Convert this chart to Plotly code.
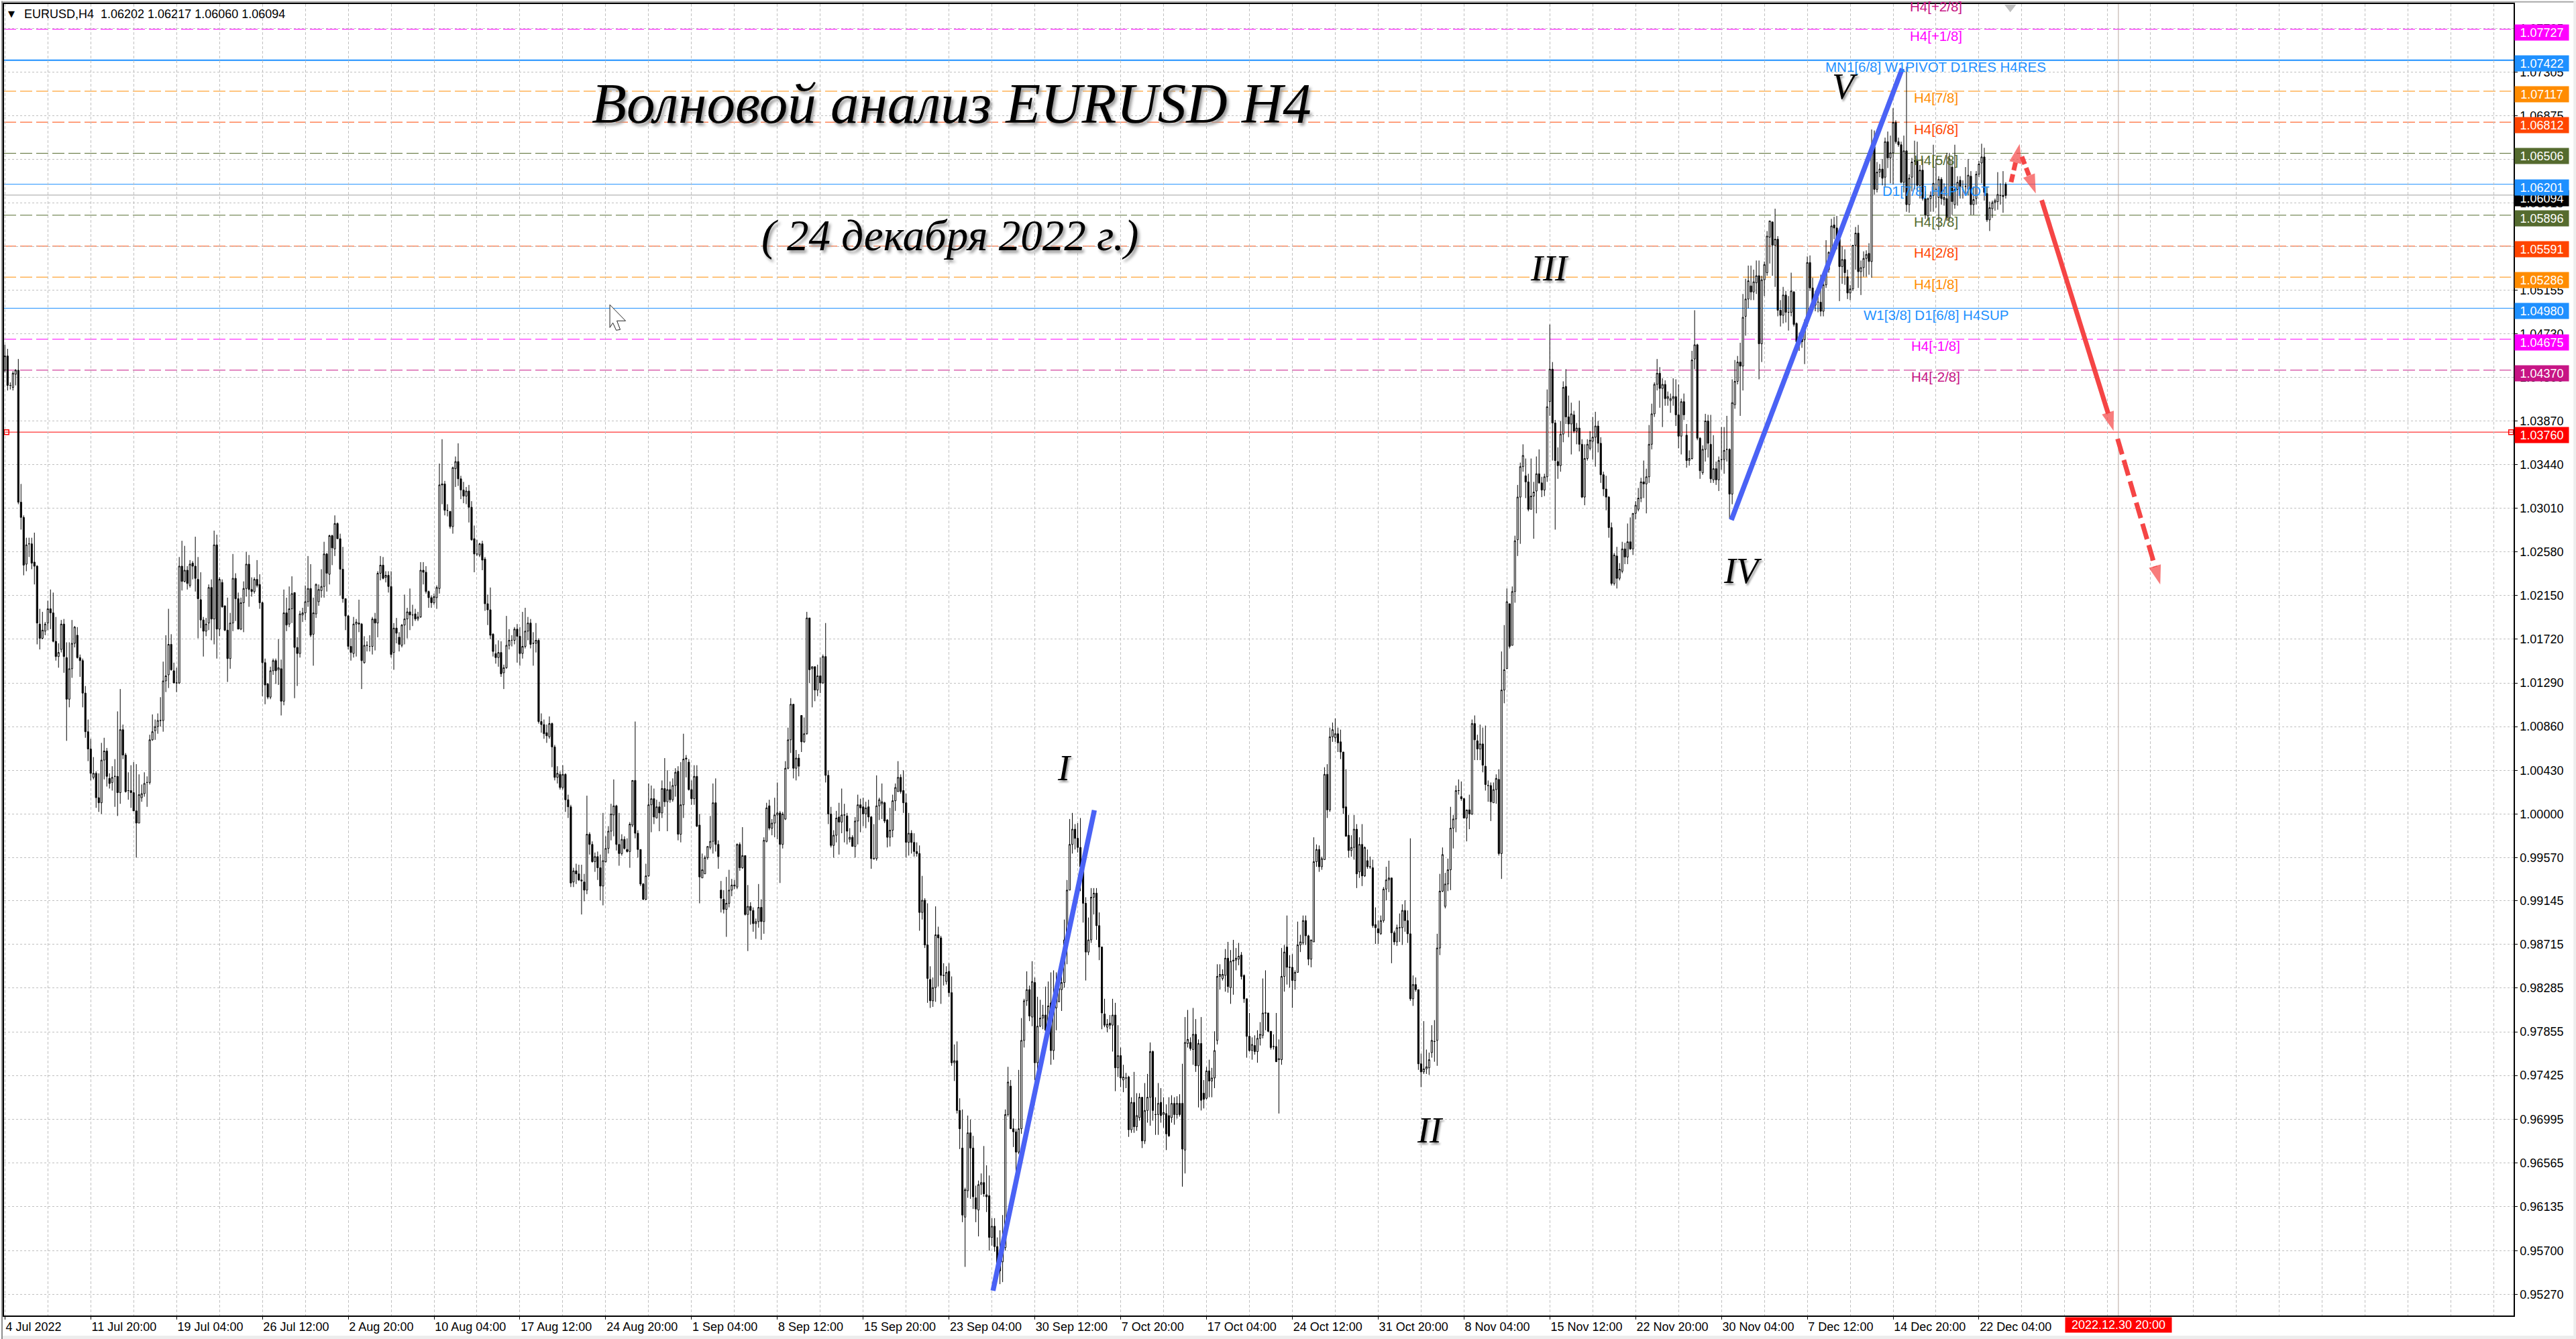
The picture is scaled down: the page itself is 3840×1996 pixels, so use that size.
import plotly.graph_objects as go

# Bars as (open, high, low, close), price x 10000
bars_a = [(10437,10462,10435,10451),(10451,10458,10417,10422),(10422,10425,10418,10422),(10420,10436,10417,10434),(10433,10438,10422,10437),(10437,10448,10305,10307),(10307,10325,10280,10292),(10292,10294,10235,10245),
(10246,10272,10239,10265),(10266,10272,10253,10266),(10266,10272,10241,10247),(10248,10277,10226,10244),(10244,10245,10167,10188),(10187,10202,10162,10173),(10173,10199,10172,10181),(10180,10189,10176,10187),
(10188,10210,10181,10202),(10202,10221,10182,10198),(10198,10218,10169,10170),(10170,10194,10151,10155),(10155,10168,10144,10159),(10162,10191,10159,10187),(10187,10192,10139,10155),(10154,10169,10072,10113),
(10113,10169,10105,10143),(10143,10191,10134,10168),(10168,10185,10164,10184),(10176,10184,10153,10154),(10154,10157,10135,10151),(10151,10153,10105,10119),(10119,10126,10075,10081),(10081,10093,10052,10064),
(10064,10074,10033,10040),(10036,10056,10034,10040),(10040,10042,10006,10016),(10016,10040,10002,10011),(10011,10070,10000,10053),(10053,10075,10034,10062),(10062,10065,10027,10037),(10035,10040,10025,10030),
(10031,10047,10023,10036),(10037,10054,10007,10037),(10037,10101,9998,10021),(10021,10123,10010,10083),(10083,10088,10054,10058),(10058,10060,10021,10022),(10023,10041,10014,10023),(10023,10048,10006,10021),
(10021,10051,10003,10003),(10003,10049,9957,9991),(9991,10039,9991,10019),(10016,10029,10012,10020),(10020,10041,10017,10030),(10031,10037,10007,10031),(10031,10078,10029,10073),(10073,10098,10072,10081),
(10082,10093,10073,10086),(10086,10099,10079,10092),(10092,10115,10086,10092),(10092,10150,10081,10131),(10131,10176,10120,10136),(10137,10202,10124,10167),(10167,10177,10141,10142),(10141,10149,10129,10129),
(10129,10144,10120,10129),(10129,10253,10128,10244),(10244,10269,10220,10229),(10229,10264,10228,10240),(10240,10244,10221,10227),(10225,10250,10223,10246),(10247,10249,10231,10244),(10244,10273,10219,10232),
(10231,10253,10173,10212),(10211,10238,10183,10191),(10191,10194,10155,10180),(10180,10193,10175,10187),(10188,10226,10181,10223),(10223,10231,10171,10192),(10192,10279,10167,10265),(10265,10275,10153,10182),
(10182,10233,10175,10231),(10228,10231,10203,10204),(10205,10205,10180,10181),(10181,10213,10130,10153),(10153,10198,10143,10188),(10188,10256,10180,10232),(10232,10237,10190,10212),(10212,10218,10182,10182),
(10182,10213,10181,10208),(10208,10229,10179,10222),(10222,10258,10214,10246),(10246,10255,10204,10221),(10221,10233,10214,10219),(10219,10233,10217,10231),(10231,10250,10223,10225),(10226,10236,10202,10208),
(10208,10209,10116,10149),(10149,10153,10108,10127),(10128,10129,10113,10115),(10115,10145,10113,10141),(10141,10153,10137,10151),(10151,10153,10128,10141),(10142,10172,10127,10144),(10143,10152,10097,10111),
(10111,10221,10107,10198),(10198,10213,10180,10186),(10187,10224,10184,10202),(10202,10234,10188,10217),(10218,10218,10114,10164),(10164,10174,10126,10158),(10158,10200,10154,10197),(10196,10203,10189,10198),
(10198,10225,10191,10209),(10209,10254,10204,10222),(10222,10246,10174,10176),(10177,10213,10146,10198),(10197,10227,10193,10226),(10209,10226,10205,10221),(10220,10241,10213,10224),(10224,10268,10213,10256),
(10256,10257,10219,10237),(10236,10275,10226,10274),(10274,10275,10245,10262),(10261,10294,10254,10286),(10286,10287,10271,10271),(10271,10276,10215,10241),(10241,10263,10208,10212),(10212,10212,10181,10195)]
bars_b = [(10195,10196,10162,10165),(10165,10173,10151,10159),(10158,10194,10154,10187),(10187,10192,10155,10189),(10188,10211,10179,10187),(10187,10188,10123,10151),(10149,10175,10148,10166),(10166,10170,10160,10166),
(10165,10176,10160,10165),(10165,10194,10157,10192),(10192,10198,10161,10188),(10188,10239,10174,10237),(10237,10254,10230,10245),(10245,10253,10231,10232),(10233,10239,10228,10235),(10235,10239,10218,10224),
(10224,10239,10154,10157),(10159,10188,10142,10183),(10183,10193,10168,10178),(10174,10179,10160,10167),(10166,10187,10164,10186),(10186,10216,10167,10192),(10192,10203,10173,10199),(10199,10222,10181,10196),
(10196,10206,10185,10196),(10197,10202,10190,10192),(10192,10199,10190,10194),(10194,10248,10193,10240),(10240,10248,10226,10238),(10238,10244,10217,10219),(10219,10220,10203,10213),(10213,10215,10203,10208),
(10208,10217,10206,10214),(10213,10225,10202,10223),(10222,10345,10217,10324),(10325,10369,10305,10324),(10325,10328,10294,10299),(10299,10305,10293,10299),(10298,10298,10281,10283),(10283,10342,10276,10341),
(10340,10352,10322,10347),(10347,10365,10323,10330),(10330,10333,10310,10319),(10319,10327,10306,10313),(10313,10322,10305,10318),(10318,10324,10287,10302),(10302,10308,10269,10270),(10271,10284,10238,10256),
(10256,10270,10254,10256),(10255,10267,10253,10266),(10266,10269,10240,10250),(10251,10253,10200,10207),(10207,10216,10186,10201),(10201,10223,10172,10176),(10177,10178,10155,10160),(10158,10167,10148,10154),
(10154,10171,10145,10159),(10159,10170,10135,10138),(10139,10147,10123,10144),(10144,10195,10143,10166),(10166,10182,10162,10171),(10171,10176,10165,10171),(10171,10184,10167,10182),(10182,10187,10149,10175),
(10175,10184,10146,10158),(10158,10199,10153,10165),(10165,10203,10163,10180),(10180,10194,10171,10188),(10188,10192,10163,10167),(10168,10179,10146,10168),(10168,10188,10159,10171),(10171,10173,10089,10091),
(10091,10099,10080,10088),(10088,10093,10074,10079),(10080,10088,10070,10077),(10076,10096,10074,10089),(10089,10090,10046,10066),(10066,10068,10033,10036),(10036,10047,10030,10040),(10039,10042,10024,10026),
(10026,10048,10024,10039),(10039,10040,10002,10014),(10014,10019,9996,10007),(10007,10009,9928,9932),(9933,9947,9928,9944),(9944,9951,9931,9941),(9941,9950,9934,9935),(9935,9950,9901,9934),
(9933,9941,9914,9925),(9925,10018,9921,9980),(9980,9982,9960,9970),(9970,9973,9952,9953),(9953,9962,9943,9958),(9958,9963,9935,9947),(9947,9960,9915,9929),(9929,10001,9910,9954),
(9953,9978,9952,9966),(9966,9988,9961,9983),(9983,10010,9974,10000),(9999,10034,9978,10008),(10008,10009,9964,9970),(9970,10001,9949,9961),(9961,9980,9959,9975),(9975,9978,9965,9966),
(9965,9976,9962,9963),(9963,9992,9947,9990),(9989,10033,9987,10033),(10033,10091,9976,9981),(9981,9984,9957,9965),(9965,9965,9929,9931),(9931,9932,9915,9916),(9916,9951,9915,9939),
(9939,10030,9938,10009),(10009,10028,9982,10015),(10015,10025,9990,9997),(9996,10014,9996,10007),(10007,10012,9983,10001),(10001,10033,9996,10025),(10025,10055,10007,10012),(10012,10043,9983,10024),
(10024,10032,10011,10014),(10014,10035,10012,10028),(10028,10045,10017,10041),(10042,10047,9974,9980),(9980,10051,9972,10009),(10009,10079,9996,10054),(10054,10058,10036,10055),(10051,10054,10023,10024)]
bars_c = [(10024,10033,10009,10015),(10015,10048,10009,10037),(10037,10048,9987,9988),(9989,10000,9912,9938),(9937,9961,9937,9945),(9941,9959,9941,9957),(9957,9968,9955,9968),(9967,9998,9965,9973),
(9973,10030,9961,10011),(10011,10035,9963,9970),(9970,9974,9946,9958),(9925,9934,9903,9917),(9916,9925,9902,9906),(9906,9938,9879,9912),(9912,9945,9908,9925),(9925,9936,9919,9930),
(9929,9935,9926,9930),(9928,9971,9926,9970),(9970,9972,9944,9947),(9947,9987,9946,9959),(9959,9959,9900,9901),(9901,9930,9865,9909),(9909,9913,9891,9905),(9905,9908,9884,9892),
(9892,9897,9877,9894),(9894,9931,9888,9908),(9908,9916,9876,9894),(9894,9977,9882,9974),(9973,10011,9972,10006),(10008,10014,9984,9986),(9986,9995,9979,9991),(9991,10016,9977,9999),
(9999,10031,9975,10001),(10001,10003,9932,9970),(9970,10002,9966,10000),(9995,10052,9994,10045),(10045,10085,10044,10073),(10073,10114,10060,10108),(10108,10108,10035,10045),(10045,10063,10033,10055),
(10055,10059,10037,10047),(10097,10097,10061,10071),(10071,10095,10070,10079),(10079,10199,10078,10193),(10193,10193,10129,10142),(10143,10145,10105,10145),(10145,10145,10111,10122),(10122,10147,10116,10136),
(10136,10154,10119,10129),(10129,10157,10128,10155),(10155,10188,10031,10038),(10038,10043,9990,10000),(10000,10007,9967,9969),(9969,9984,9957,9979),(9979,10003,9972,9996),(9997,10011,9960,9992),
(9992,10025,9981,9999),(9999,10010,9972,9999),(9998,10001,9970,9983),(9975,9986,9972,9977),(9977,9979,9968,9968),(9968,9997,9957,9993),(9993,10019,9970,10009),(10009,10015,9982,10006),
(10007,10016,9988,10000),(10000,10012,9986,10006),(10007,10014,9992,9997),(9997,9998,9946,9956),(9956,9990,9955,9956),(9956,10038,9954,10008),(10008,10016,9994,10014),(10010,10030,9995,10012),
(10011,10012,9991,9993),(9994,9995,9967,9977),(9977,10006,9968,9984),(9984,10019,9977,10013),(10013,10030,10003,10026),(10022,10052,10022,10036),(10036,10039,10020,10022),(10023,10043,10001,10011),
(10011,10020,9957,9972),(9972,10001,9959,9981),(9981,9984,9961,9972),(9972,9981,9958,9963),(9963,9972,9958,9961),(9961,9969,9885,9903),(9903,9939,9896,9915),(9915,9917,9868,9871),
(9871,9912,9814,9838),(9837,9850,9809,9816),(9816,9839,9810,9829),(9829,9909,9815,9881),(9881,9889,9830,9878),(9878,9880,9813,9841),(9841,9853,9831,9841),(9835,9850,9832,9844),
(9845,9853,9820,9824),(9824,9840,9752,9755),(9755,9773,9737,9757),(9757,9776,9705,9708),(9708,9720,9670,9690),(9671,9709,9598,9605),(9603,9632,9554,9630),(9629,9703,9622,9686),
(9686,9699,9621,9671),(9671,9683,9611,9623),(9622,9634,9598,9611),(9610,9639,9584,9635),(9635,9646,9625,9637),(9637,9673,9623,9626),(9625,9654,9608,9623),(9624,9644,9570,9583),
(9583,9602,9575,9594),(9594,9602,9569,9574),(9574,9583,9546,9553),(9557,9590,9537,9550),(9559,9605,9539,9574),(9573,9709,9570,9704),(9704,9751,9702,9736),(9732,9738,9690,9690),
(9690,9700,9672,9687),(9687,9690,9645,9667),(9667,9748,9665,9690),(9690,9799,9685,9777),(9777,9818,9770,9816),(9816,9845,9811,9827),(9827,9831,9796,9801),(9800,9855,9791,9835)]
bars_d = [(9834,9839,9738,9755),(9755,9820,9738,9791),(9791,9817,9790,9799),(9799,9812,9788,9802),(9802,9830,9786,9787),(9787,9835,9786,9811),(9814,9844,9753,9767),(9767,9846,9758,9808),
(9809,9844,9787,9827),(9815,9837,9815,9828),(9827,9851,9806,9834),(9834,9896,9829,9876),(9876,9935,9852,9925),(9925,9995,9925,9970),(9970,10001,9961,9985),(9985,9990,9965,9976),
(9976,9991,9962,9967),(9967,9996,9924,9948),(9947,9958,9893,9912),(9912,9918,9836,9864),(9864,9898,9861,9876),(9876,9927,9873,9918),(9918,9927,9901,9922),(9922,9927,9876,9890),
(9890,9903,9856,9869),(9869,9869,9788,9804),(9803,9818,9790,9792),(9790,9798,9785,9793),(9794,9802,9788,9792),(9792,9818,9766,9802),(9802,9814,9727,9750),(9750,9792,9741,9762),
(9762,9770,9731,9740),(9738,9753,9726,9741),(9740,9745,9730,9740),(9741,9742,9682,9689),(9689,9721,9686,9716),(9716,9746,9686,9692),(9692,9725,9688,9703),(9701,9725,9698,9721),
(9721,9721,9671,9678),(9678,9735,9675,9708),(9708,9744,9696,9721),(9721,9775,9693,9766),(9766,9767,9698,9708),(9704,9721,9684,9704),(9704,9735,9684,9715),(9716,9730,9696,9703),
(9704,9721,9691,9706),(9705,9714,9669,9685),(9703,9721,9682,9683),(9701,9723,9696,9715),(9715,9721,9694,9704),(9704,9722,9700,9715),(9715,9724,9702,9704),(9715,9754,9633,9670),
(9669,9800,9646,9775),(9774,9807,9770,9778),(9775,9780,9767,9769),(9768,9809,9753,9783),(9783,9798,9746,9752),(9752,9778,9711,9774),(9774,9800,9708,9718),(9725,9738,9710,9719),
(9720,9751,9719,9747),(9747,9758,9721,9737),(9737,9750,9721,9740),(9740,9786,9730,9767),(9777,9852,9773,9840),(9840,9852,9827,9842),(9838,9847,9836,9842),(9841,9867,9825,9858),
(9858,9874,9824,9830),(9829,9866,9813,9855),(9855,9876,9822,9856),(9856,9868,9846,9858),(9857,9873,9851,9860),(9861,9864,9837,9840),(9841,9842,9814,9818),(9818,9818,9760,9781),
(9781,9804,9766,9767),(9767,9780,9758,9773),(9772,9782,9763,9766),(9766,9787,9755,9779),(9779,9795,9772,9783),(9782,9838,9779,9804),(9804,9846,9787,9804),(9804,9804,9785,9786),
(9786,9786,9768,9770),(9771,9783,9768,9771),(9771,9804,9756,9756),(9758,9778,9705,9759),(9758,9868,9753,9840),(9840,9871,9825,9864),(9869,9900,9832,9849),(9849,9861,9829,9849),
(9849,9862,9809,9836),(9836,9846,9827,9844),(9844,9894,9844,9871),(9871,9881,9864,9874),(9873,9900,9871,9895),(9895,9900,9871,9880),(9880,9881,9851,9857),(9857,9876,9849,9876),
(9874,9977,9874,9953),(9953,9970,9948,9965),(9965,9969,9943,9948),(9948,9958,9945,9956),(9955,10046,9955,10039),(10039,10049,9996,10004),(10004,10085,10002,10076),(10076,10090,10071,10083),
(10075,10094,10071,10079),(10079,10085,10061,10070),(10071,10083,10054,10061),(10061,10061,10000,10006),(10007,10044,9979,9978),(9979,9999,9957,9964),(9964,9979,9958,9967),(9967,9999,9955,9985),
(9985,9990,9927,9941),(9943,9977,9937,9970),(9970,9990,9929,9939),(9939,9968,9938,9967),(9954,9965,9946,9948),(9948,9958,9946,9948),(9947,9955,9888,9890),(9891,9908,9872,9888),
(9887,9895,9872,9883),(9882,9900,9881,9895),(9895,9928,9893,9926),(9926,9948,9915,9935),(9935,9954,9923,9937),(9937,9937,9853,9883),(9883,9885,9871,9874),(9874,9891,9870,9888),
(9888,9902,9874,9888),(9888,9911,9871,9905),(9905,9915,9884,9895),(9895,9905,9873,9882),(9882,9976,9816,9818),(9818,9841,9811,9832),(9832,9839,9825,9827),(9827,9827,9748,9754),
(9754,9764,9731,9746),(9746,9796,9744,9749),(9749,9768,9744,9751),(9750,9765,9743,9758),(9765,9792,9760,9777),(9776,9797,9756,9776),(9777,9882,9752,9868),(9868,9941,9861,9924),
(9924,9967,9923,9960),(9909,9942,9907,9931),(9931,9956,9924,9945),(9945,10007,9925,9986),(9986,9999,9966,9995),(9995,10028,9982,10023),(10023,10034,10019,10023),(10017,10032,10013,10015),
(10015,10016,9996,9996),(9996,10004,9973,10004),(10004,10019,9985,10000),(10000,10093,9999,10089),(10089,10097,10053,10073),(10072,10078,10053,10064),(10064,10088,10053,10069),(10069,10085,10041,10048),
(10047,10087,10023,10029),(10028,10033,10012,10028),(10028,10031,9993,10012),(10011,10031,10011,10024)]
bars_e = [(10024,10039,10010,10035),(10034,10044,9959,9961),(9961,10160,9936,10122),(10122,10186,10109,10142),(10143,10222,10143,10209),(10207,10207,10163,10165),(10166,10224,10166,10219),(10219,10274,10208,10269),
(10270,10324,10254,10312),(10312,10346,10266,10342),(10342,10364,10337,10353),(10333,10350,10311,10327),(10327,10335,10298,10300),(10300,10350,10300,10313),(10313,10327,10271,10317),(10318,10352,10296,10335),
(10335,10359,10325,10326),(10326,10332,10312,10319),(10319,10335,10313,10332),(10332,10418,10327,10401),(10406,10482,10392,10438),(10438,10445,10348,10385),(10385,10388,10280,10348),(10347,10361,10330,10343),
(10343,10387,10337,10374),(10374,10426,10366,10420),(10421,10438,10384,10391),(10391,10412,10371,10384),(10384,10405,10354,10394),(10393,10397,10375,10377),(10377,10385,10364,10380),(10380,10407,10357,10364),
(10364,10369,10311,10312),(10312,10364,10304,10350),(10350,10369,10348,10364),(10360,10377,10358,10368),(10367,10391,10349,10371),(10371,10396,10342,10382),(10382,10387,10356,10365),(10365,10371,10326,10334),
(10334,10337,10313,10320),(10320,10333,10299,10312),(10312,10313,10272,10282),(10282,10287,10225,10227),(10227,10257,10225,10255),(10254,10263,10222,10232),(10232,10247,10230,10241),(10239,10268,10237,10261),
(10261,10267,10246,10253),(10253,10286,10246,10268),(10268,10292,10260,10261),(10261,10296,10255,10296),(10296,10308,10290,10304),(10300,10321,10298,10311),(10311,10331,10307,10327),(10327,10348,10311,10325),
(10325,10340,10296,10332),(10332,10383,10326,10364),(10364,10404,10359,10394),(10394,10425,10391,10423),(10423,10448,10417,10434),(10434,10440,10400,10419),(10419,10429,10381,10423),(10423,10427,10402,10409),
(10409,10416,10402,10411),(10407,10414,10395,10409),(10409,10429,10402,10411),(10411,10428,10382,10393),(10393,10423,10360,10372),(10372,10409,10354,10406),(10406,10414,10388,10393),(10373,10384,10341,10348),
(10348,10358,10343,10350),(10350,10456,10349,10447),(10448,10496,10438,10462),(10462,10463,10368,10370),(10370,10371,10330,10338),(10336,10363,10334,10359),(10359,10394,10347,10387),(10387,10393,10351,10365),
(10364,10393,10326,10330),(10329,10373,10326,10340),(10340,10347,10324,10329),(10329,10352,10318,10348),(10349,10381,10339,10349),(10349,10381,10335,10358),(10359,10392,10347,10359),(10359,10360,10291,10315),
(10315,10428,10305,10405),(10403,10447,10399,10426),(10426,10451,10423,10445),(10445,10464,10392,10441),(10441,10512,10417,10489)]
bars_f = [(10490,10527,10471,10507),(10507,10540,10498,10525),(10520,10540,10506,10514),(10514,10536,10506,10524),(10523,10545,10512,10530),(10530,10545,10428,10463),(10463,10530,10445,10526),(10526,10544,10510,10541),
(10533,10574,10530,10569),(10568,10584,10542,10584),(10583,10583,10530,10560),(10560,10596,10519,10566),(10566,10569,10490,10496),(10496,10506,10480,10491),(10491,10519,10483,10511),(10511,10515,10484,10494),
(10494,10510,10476,10494),(10494,10533,10490,10515),(10514,10515,10480,10482),(10483,10484,10456,10465),(10468,10474,10456,10468),(10468,10474,10459,10465),(10467,10487,10443,10484),(10484,10549,10480,10543),
(10543,10550,10515,10518),(10518,10528,10498,10501),(10501,10515,10495,10504),(10504,10509,10494,10504),(10504,10531,10490,10495),(10495,10524,10490,10521),(10521,10565,10518,10536),(10536,10554,10533,10553),
(10551,10586,10550,10579),(10580,10588,10566,10577),(10577,10589,10556,10566),(10566,10569,10505,10539),(10539,10559,10522,10546),(10546,10556,10521,10533),(10529,10536,10507,10513),(10513,10521,10506,10517),
(10517,10560,10515,10560),(10560,10578,10536,10572),(10572,10580,10518,10534),(10534,10545,10511,10538),(10538,10554,10529,10547),(10547,10555,10529,10551),(10552,10562,10531,10544),(10544,10674,10528,10652),
(10657,10673,10610,10615),(10615,10642,10612,10632),(10632,10640,10627,10635),(10635,10645,10619,10626),(10627,10666,10618,10662),(10662,10672,10636,10646),(10646,10668,10621,10651),(10651,10695,10620,10681),
(10681,10683,10660,10662),(10662,10666,10657,10659),(10659,10662,10621,10622),(10622,10668,10612,10653),(10653,10736,10593,10600),(10600,10630,10592,10626),(10627,10646,10613,10642),(10643,10663,10615,10643),
(10643,10662,10613,10619),(10619,10639,10606,10634),(10634,10645,10604,10606),(10606,10613,10586,10590),(10589,10607,10584,10606),(10606,10613,10593,10609),(10609,10659,10593,10621),(10615,10645,10597,10615),
(10607,10628,10575,10625),(10625,10627,10600,10606),(10605,10621,10599,10607),(10606,10651,10584,10587),(10587,10651,10584,10645),(10637,10643,10590,10603),(10600,10659,10596,10615),(10615,10628,10599,10622),
(10624,10628,10606,10618),(10615,10624,10606,10615),(10618,10637,10610,10618),(10615,10645,10609,10629),(10628,10633,10590,10600),(10600,10618,10590,10605),(10606,10633,10600,10630),(10630,10643,10627,10640),
(10641,10660,10621,10647),(10647,10656,10604,10612),(10611,10618,10583,10585),(10585,10603,10574,10597),(10596,10604,10587,10602),(10602,10606,10594,10604),(10603,10632,10595,10610),(10609,10621,10600,10609),
(10609,10633,10592,10608),(10620,10622,10606,10609)]

all_bars = bars_a + bars_b + bars_c + bars_d + bars_e + bars_f
bar_index = list(range(len(all_bars)))
opens = [b[0] / 10000 for b in all_bars]
highs = [max(b[0], b[1], b[3]) / 10000 for b in all_bars]
lows = [min(b[0], b[2], b[3]) / 10000 for b in all_bars]
closes = [b[3] / 10000 for b in all_bars]

x_tick_bars = [0, 32, 64, 96, 128, 160, 192, 224, 256, 288, 320, 352, 384, 416, 448, 480, 512, 544, 576, 608, 640, 672, 704, 736]
x_tick_text = ["4 Jul 2022", "11 Jul 20:00", "19 Jul 04:00", "26 Jul 12:00", "2 Aug 20:00", "10 Aug 04:00", "17 Aug 12:00", "24 Aug 20:00",
               "1 Sep 04:00", "8 Sep 12:00", "15 Sep 20:00", "23 Sep 04:00", "30 Sep 12:00", "7 Oct 20:00", "17 Oct 04:00", "24 Oct 12:00",
               "31 Oct 20:00", "8 Nov 04:00", "15 Nov 12:00", "22 Nov 20:00", "30 Nov 04:00", "7 Dec 12:00", "14 Dec 20:00", "22 Dec 04:00"]
y_ticks = [1.07735, 1.07305, 1.06875, 1.06445, 1.06015, 1.05585, 1.05155, 1.04730, 1.04300, 1.03870, 1.03440, 1.03010, 1.02580, 1.02150, 1.01720,
           1.01290, 1.00860, 1.00430, 1.00000, 0.99570, 0.99145, 0.98715, 0.98285, 0.97855, 0.97425, 0.96995, 0.96565, 0.96135, 0.95700, 0.95270]

level_values = [1.07727, 1.07422, 1.07117, 1.06812, 1.06506, 1.06201, 1.05896, 1.05591, 1.05286, 1.04980, 1.04675, 1.04370, 1.03760]
level_colors = ["#FF00FF", "#1E90FF", "#FF8C00", "#FF4500", "#556B2F", "#1E90FF", "#556B2F", "#FF4500", "#FF8C00", "#1E90FF", "#FF00FF", "#C71585", "#FF0000"]
level_widths = [1, 2, 1, 1, 1, 1, 1, 1, 1, 1, 1, 1, 1]
level_dashes = ["18px,6px", "solid", "18px,6px", "18px,6px", "18px,6px", "solid", "18px,6px", "18px,6px", "18px,6px", "solid", "18px,6px", "18px,6px", "solid"]
level_names = ["H4[+1/8]", "MN1[6/8] W1PIVOT D1RES H4RES", "H4[7/8]", "H4[6/8]", "H4[5/8]", "D1[7/8] H4PIVOT", "H4[3/8]", "H4[2/8]", "H4[1/8]",
               "W1[3/8] D1[6/8] H4SUP", "H4[-1/8]", "H4[-2/8]", ""]
last_price = 1.06094

wave_names = ["I", "II", "III", "IV", "V"]
wave_bars = [395, 531.4, 576, 648, 686]
wave_prices = [1.00453, 0.96882, 1.05370, 1.02394, 1.07166]

blue_a_bars, blue_a_prices = [368.4, 406.2], [0.95305, 1.00037]
blue_b_bars, blue_b_prices = [643.7, 707.4], [1.02895, 1.07340]
red_segments = [([748, 751.2], [1.06222, 1.06598], "12px,6px"),
                ([752, 757.2], [1.06473, 1.06110], "12px,6px"),
                ([759.4, 786.2], [1.06044, 1.03773], "solid"),
                ([787.7, 803.6], [1.03694, 1.02260], "24px,9px")]
time_line_bar = 788

W, H = 3840, 1996
L, R, T, B = 4.0, 3746.7, 4.3, 1961.0
FONT = "Liberation Sans"
def px(x): return (x - L) / (R - L)
def py(y): return (B - y) / (B - T)

fig = go.Figure()
fig.add_trace(go.Candlestick(x=bar_index, open=opens, high=highs, low=lows, close=closes,
    increasing=dict(line=dict(color="#000000", width=1), fillcolor="#FFFFFF"),
    decreasing=dict(line=dict(color="#000000", width=1), fillcolor="#000000"),
    whiskerwidth=0, showlegend=False, hoverinfo="skip"))
for xs, ys in [(blue_a_bars, blue_a_prices), (blue_b_bars, blue_b_prices)]:
    fig.add_trace(go.Scatter(x=xs, y=ys, mode="lines", line=dict(color="#4A62F5", width=7.5), showlegend=False, hoverinfo="skip"))
for xs, ys, dash in red_segments:
    fig.add_trace(go.Scatter(x=xs, y=ys, mode="lines+markers", line=dict(color="#F54545", width=7, dash=dash),
        marker=dict(symbol="arrow", size=[0, 30], color="#F54545", angleref="previous", line=dict(width=0)), showlegend=False, hoverinfo="skip"))
fig.add_trace(go.Scatter(x=[0.6, 934.4], y=[1.0376, 1.0376], mode="markers",
    marker=dict(symbol="square-open", size=7, color="#FF0000", line=dict(width=1.5)), showlegend=False, hoverinfo="skip"))
fig.add_trace(go.Scatter(x=[747.7], y=[1.07945], mode="markers",
    marker=dict(symbol="triangle-down", size=15, color="#BEBEBE"), showlegend=False, hoverinfo="skip"))

shapes = []
for v, c, w, d in zip(level_values, level_colors, level_widths, level_dashes):
    shapes.append(dict(type="line", xref="paper", yref="y", x0=0, x1=0.999 if d != "solid" else 1, y0=v, y1=v, layer="below",
                       line=dict(color=c, width=w, dash=d)))
shapes.append(dict(type="line", xref="paper", yref="y", x0=0, x1=1, y0=last_price, y1=last_price, layer="below", line=dict(color="#C0C0C0", width=1.5)))
shapes.append(dict(type="line", xref="x", yref="paper", x0=time_line_bar, x1=time_line_bar, y0=0, y1=1, layer="below", line=dict(color="#B9A8A0", width=1)))
cursor = [(907.5, 453), (931, 477), (918, 477), (923, 490), (917, 491), (912, 480), (907.5, 487)]
shapes.append(dict(type="path", xref="paper", yref="paper", layer="above", fillcolor="#FFFFFF", line=dict(color="#222222", width=1),
                   path="M " + " L ".join(f"{px(a):.5f},{py(b):.5f}" for a, b in cursor) + " Z"))
for x0, y0, x1, y1, c in [(0, 0, 3840, 2, "#A8A8A8"), (3836, 0, 3840, 1996, "#EDEDED"), (0, 1991, 3840, 1996, "#EDEDED"), (0, 0, 2, 1996, "#8C8C8C")]:
    shapes.append(dict(type="rect", xref="paper", yref="paper", x0=px(x0), x1=px(x1), y0=py(y0), y1=py(y1), fillcolor=c, line=dict(width=0), layer="above"))

ann = []
# level tags on the price scale, drawn from the bottom so that upper tags cover lower ones as in the reference
tag_x = px(3748)
ann.append(dict(xref="paper", yref="y", x=tag_x, y=last_price, xanchor="left", yanchor="middle", yshift=-4.5, text=f"{last_price:.5f}",
                showarrow=False, bgcolor="#000000", width=80, height=23, borderpad=0, align="center", font=dict(family=FONT, size=18, color="#FFFFFF")))
for v, c in zip(level_values, level_colors):
    ann.append(dict(xref="paper", yref="y", x=tag_x, y=v, xanchor="left", yanchor="middle", yshift=-4.5, text=f"{v:.5f}",
                    showarrow=False, bgcolor=c, width=80, height=23, borderpad=0, align="center", font=dict(family=FONT, size=18, color="#FFFFFF")))
# level captions
for v, c, n in zip(level_values, level_colors, level_names):
    if n:
        ann.append(dict(xref="x", yref="y", x=720, y=v, xanchor="center", yanchor="middle", yshift=-10, text=n, showarrow=False,
                        font=dict(family=FONT, size=20.5, color=c)))
ann.append(dict(xref="x", yref="paper", x=720, y=py(8), xanchor="center", yanchor="middle", text="H4[+2/8]", showarrow=False,
                font=dict(family=FONT, size=20.5, color="#C71585")))
# chart header
ann.append(dict(xref="paper", yref="paper", x=px(32), y=py(19), xanchor="left", yanchor="middle", showarrow=False,
                text="EURUSD,H4  1.06202 1.06217 1.06060 1.06094", font=dict(family=FONT, size=18, color="#000000")))
ann.append(dict(xref="paper", yref="paper", x=px(15), y=py(19), xanchor="center", yanchor="middle", showarrow=False,
                text="▼", font=dict(family="DejaVu Sans", size=13, color="#000000")))
# handwritten captions
SHADOW = "3px 4px 4px #999999"
ann.append(dict(xref="paper", yref="paper", x=px(1417), y=py(152), xanchor="center", yanchor="middle", showarrow=False,
                text="Волновой анализ EURUSD H4", font=dict(family="Liberation Serif", style="italic", size=85, color="#000000", shadow=SHADOW)))
ann.append(dict(xref="paper", yref="paper", x=px(1415), y=py(350), xanchor="center", yanchor="middle", showarrow=False,
                text="( 24 декабря 2022 г.)", font=dict(family="Liberation Serif", style="italic", size=65, color="#000000", shadow=SHADOW)))
for n, k, p in zip(wave_names, wave_bars, wave_prices):
    ann.append(dict(xref="x", yref="y", x=k, y=p, xanchor="center", yanchor="middle", showarrow=False, text=n,
                    font=dict(family="Liberation Serif", style="italic", size=54, color="#000000", shadow="2px 3px 3px #999999")))
# current time flag
ann.append(dict(xref="x", yref="paper", x=time_line_bar, y=py(1975), xanchor="center", yanchor="middle", showarrow=False,
                text="2022.12.30 20:00", bgcolor="#FF0000", width=158, height=22, borderpad=0, align="center",
                font=dict(family=FONT, size=18, color="#FFFFFF")))

fig.update_layout(
    width=W, height=H, autosize=False,
    margin=dict(l=L, r=W - R, t=T, b=H - B, pad=0),
    paper_bgcolor="#FFFFFF", plot_bgcolor="#FFFFFF",
    shapes=shapes, annotations=ann, showlegend=False, hovermode=False, boxgap=0.25,
    xaxis=dict(type="linear", range=[(L - 5.3) / 4, (R - 5.3) / 4], rangeslider=dict(visible=False),
               tickmode="array", tickvals=x_tick_bars, ticktext=x_tick_text, ticks="outside", ticklen=4, tickcolor="#000000", tickwidth=1,
               ticklabelposition="outside right", tickangle=0, tickfont=dict(family=FONT, size=18, color="#000000"),
               showgrid=True, gridcolor="#C0C0C0", griddash="4px,3px", gridwidth=1, zeroline=False,
               minor=dict(tick0=0, dtick=16, showgrid=True, gridcolor="#C0C0C0", griddash="4px,3px", gridwidth=1, ticks=""),
               showline=True, mirror=True, linecolor="#000000", linewidth=1.5),
    yaxis=dict(type="linear", side="right", range=[1.0376 + (643 - B) / 15151, 1.0376 + (643 - T) / 15151],
               tickmode="array", tickvals=y_ticks, ticktext=[f"{v:.5f}" for v in y_ticks], ticks="outside", ticklen=4, tickcolor="#000000", tickwidth=1,
               tickfont=dict(family=FONT, size=18, color="#000000"),
               showgrid=True, gridcolor="#C0C0C0", griddash="3px,3px", gridwidth=1, zeroline=False,
               showline=True, mirror=True, linecolor="#000000", linewidth=1.5),
)
fig.write_html("out.html", config={"displayModeBar": False}, post_script="document.body.style.margin='0';document.body.style.overflow='hidden';")
